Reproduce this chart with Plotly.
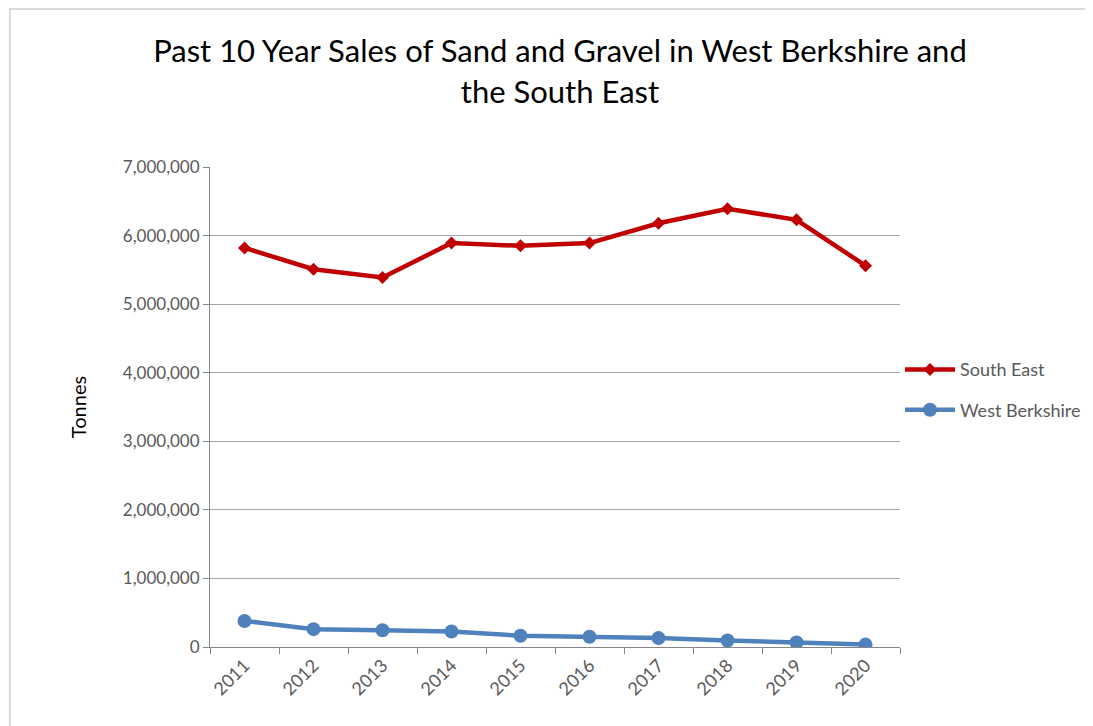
import plotly.graph_objects as go

years = ['2011', '2012', '2013', '2014', '2015', '2016', '2017', '2018', '2019', '2020']
south_east = [5820000, 5510000, 5390000, 5890000, 5850000, 5890000, 6180000, 6390000, 6230000, 5560000]
west_berkshire = [380000, 260000, 245000, 225000, 165000, 150000, 130000, 95000, 65000, 35000]

font = 'Lato, Open Sans, sans-serif'

fig = go.Figure()
fig.add_trace(go.Scatter(
    x=years, y=south_east, name='South East', mode='lines+markers',
    legendgroup='se',
    line=dict(color='#C00000', width=4.5),
    marker=dict(symbol='diamond', size=10, color='#C00000'),
))
fig.add_trace(go.Scatter(
    x=years, y=west_berkshire, name='West Berkshire', mode='lines+markers',
    legendgroup='wb',
    line=dict(color='#4F81BD', width=4.5),
    marker=dict(symbol='circle', size=14, color='#4F81BD'),
))

fig.update_layout(
    width=1093, height=726,
    margin=dict(l=202, r=201, t=159, b=87),
    paper_bgcolor='white', plot_bgcolor='white',
    font=dict(family=font, color='#595959', size=17),
    title=dict(
        text='Past 10 Year Sales of Sand and Gravel in West Berkshire and<br>the South East',
        x=0.505, xanchor='center', y=0.925, yanchor='top',
        font=dict(size=31, color='black', family=font),
    ),
    legend=dict(x=1.0, y=0.536, xanchor='left', yanchor='middle',
                font=dict(size=18, color='#595959'), itemwidth=50,
                tracegroupgap=14),
    showlegend=True,
    shapes=[dict(type='rect', xref='paper', yref='paper',
                 x0=-0.29, x1=1.4, y0=-0.2, y1=1.329,
                 line=dict(color='#D9D9D9', width=2))],
)
fig.update_xaxes(
    type='category', range=[-0.5, 9.5], tickangle=-45,
    tickson='boundaries', ticks='outside', ticklen=6, tickcolor='#868686',
    showline=True, linecolor='#868686', linewidth=1, showgrid=False,
    tickfont=dict(size=18, color='#595959'),
)
fig.update_yaxes(
    range=[0, 7000000], dtick=1000000, tickformat=',d',
    showgrid=True, gridcolor='#A6A6A6', gridwidth=1,
    showline=True, linecolor='#868686', ticks='outside', ticklen=6, tickcolor='#868686',
    zeroline=False,
    title=dict(text='Tonnes', font=dict(size=20, color='black'), standoff=30),
    tickfont=dict(size=17, color='#595959'),
)

fig.write_html('out.html')
